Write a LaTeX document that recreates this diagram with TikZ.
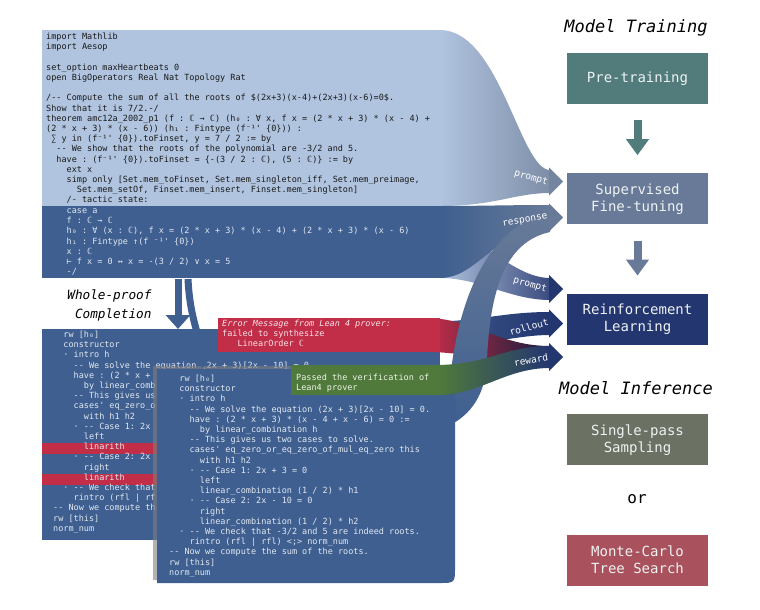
\documentclass[tikz,border=0pt]{standalone}
\usepackage{fontspec}
\setmonofont{DejaVu Sans Mono}
\usetikzlibrary{arrows.meta,shadows,positioning}

\definecolor{lightcode}{HTML}{B0C4DF}
\definecolor{darkcode}{HTML}{3E5F8F}
\definecolor{codetext}{HTML}{E3E9F2}
\definecolor{errred}{HTML}{C22D48}
\definecolor{errtext}{HTML}{F7E4EA}
\definecolor{passgreen}{HTML}{4F7A3B}
\definecolor{passtext}{HTML}{EEF4E8}
\definecolor{pretrain}{HTML}{527B7B}
\definecolor{sftcol}{HTML}{687A98}
\definecolor{rlcol}{HTML}{243670}
\definecolor{singlecol}{HTML}{6B7163}
\definecolor{mctscol}{HTML}{A9525E}
\definecolor{stagetext}{HTML}{EEF2F2}

% indentation in characters of the current mono font
\newcommand{\indc}[1]{\hspace*{#1\fontcharwd\font`x}}

\begin{document}
\begin{tikzpicture}[x=1pt,y=-1pt,
    leancode/.style={font=\ttfamily\fontsize{8.5}{10.2}\selectfont, align=left, inner sep=0pt, anchor=north west},
    stage/.style={minimum width=141pt, minimum height=51pt, inner sep=0pt, text=stagetext, align=center, font=\ttfamily\fontsize{14}{17}\selectfont},
    heading/.style={font=\ttfamily\itshape\fontsize{17}{20}\selectfont},
    bandlabel/.style={font=\ttfamily\fontsize{9.5}{11}\selectfont, text=white, inner sep=0pt},
    stagearrow/.style={line width=8pt, -{Triangle[length=16pt,width=22pt]}, shorten <=16pt, shorten >=18pt},
    proofarrow/.style={line width=7pt, darkcode, -{Triangle[length=14pt,width=24pt]}}]
\useasboundingbox (0,0) rectangle (760,610);

% prompt band to RL, under the rest
\shade[left color=lightcode, right color=rlcol!90!white] (440,225) .. controls (470,225) and (510,278) .. (550,278) -- (550,300) .. controls (510,300) and (480,278) .. (440,278) -- cycle;

% lean source
\fill[lightcode] (42,30) rectangle (440.5,206);
\fill[darkcode] (42,206) rectangle (440.5,278);
\shade[left color=lightcode, right color=sftcol!85!white] (440,30) .. controls (500,30) and (520,170) .. (550,170) -- (550,193) .. controls (515,193) and (495,206) .. (440,206) -- cycle;
\shade[left color=darkcode, right color=sftcol] (440,206) .. controls (480,206) and (510,205) .. (550,205) -- (550,230) .. controls (490,232) and (478,278) .. (440,278) -- cycle;

\node[leancode, text=black!90] (leansrc) at (46,32.4) {\strut import Mathlib\\
import Aesop\\
\mbox{}\\
set\_option maxHeartbeats 0\\
open BigOperators Real Nat Topology Rat\\
\mbox{}\\
/-- Compute the sum of all the roots of \$(2x+3)(x-4)+(2x+3)(x-6)=0\$.\\
Show that it is 7/2.-/\\
theorem amc12a\_2002\_p1 (f : ℂ → ℂ) (h₀ : ∀ x, f x = (2 * x + 3) * (x - 4) +\\
(2 * x + 3) * (x - 6)) (h₁ : Fintype (f⁻¹' \{0\})) :\\
\indc{1}∑ y in (f⁻¹' \{0\}).toFinset, y = 7 / 2 := by\\
\indc{2}-- We show that the roots of the polynomial are -3/2 and 5.\\
\indc{2}have : (f⁻¹' \{0\}).toFinset = \{-(3 / 2 : ℂ), (5 : ℂ)\} := by\\
\indc{4}ext x\\
\indc{4}simp only [Set.mem\_toFinset, Set.mem\_singleton\_iff, Set.mem\_preimage,\\
\indc{6}Set.mem\_setOf, Finset.mem\_insert, Finset.mem\_singleton]\\
\indc{4}/- tactic state:};
\node[leancode, text=codetext] (tactic) at (66.5,206.2) {\strut case a\\
f : ℂ → ℂ\\
h₀ : ∀ (x : ℂ), f x = (2 * x + 3) * (x - 4) + (2 * x + 3) * (x - 6)\\
h₁ : Fintype ↑(f ⁻¹' \{0\})\\
x : ℂ\\
⊢ f x = 0 ↔ x = -(3 / 2) ∨ x = 5\\
-/};

% rollout band
\shade[left color=darkcode, right color=rlcol] (420,322) .. controls (480,322) and (500,312) .. (550,312) -- (550,335) .. controls (515,335) and (490,346) .. (420,346) -- cycle;

% first attempt (mostly hidden behind the second one)
\fill[darkcode] (42,329) rectangle (440,540);
\fill[errred] (42,442.5) rectangle (440,453.5);
\fill[errred] (42,473.5) rectangle (440,484.5);
\node[leancode, text=codetext] (failproof) at (53,330.2) {\strut\indc{2}rw [h₀]\\
\indc{2}constructor\\
\indc{2}· intro h\\
\indc{4}-- We solve the equation (2x + 3)[2x - 10] = 0.\\
\indc{4}have : (2 * x +\\
\indc{6}by linear\_comb\\
\indc{4}-- This gives us\\
\indc{4}cases' eq\_zero\_o\\
\indc{6}with h1 h2\\
\indc{4}· -- Case 1: 2x\\
\indc{6}left\\
\indc{6}linarith\\
\indc{4}· -- Case 2: 2x\\
\indc{6}right\\
\indc{6}linarith\\
\indc{2}· -- We check that\\
\indc{4}rintro (rfl | rf\\
-- Now we compute th\\
rw [this]\\
norm\_num};

% error message and its reward band
\shade[left color=errred, right color=rlcol!55!black] (430,318) .. controls (475,320) and (500,346) .. (550,346) -- (550,368) .. controls (510,368) and (480,353) .. (430,352) -- cycle;
\fill[errred] (218,318) rectangle (440,352);
\node[leancode, text=errtext] (errmsg) at (222,319.2) {\strut{\itshape Error Message from Lean 4 prover:}\\
failed to synthesize\\
\indc{3}LinearOrder ℂ};

% passed proof, back to SFT as response
\shade[top color=sftcol, bottom color=darkcode] (550,214) .. controls (488,224) and (458,300) .. (450,380) -- (450,425) .. controls (470,415) and (486,395) .. (487,360) .. controls (490,290) and (505,242) .. (550,232) -- cycle;
\fill[darkcode, drop shadow={shadow xshift=-4pt, shadow yshift=3pt, opacity=.6}] (157,369) -- (455,369) -- (455,567) .. controls (455,583) .. (439,583) -- (157,583) -- cycle;
\node[leancode, text=codetext] (passproof) at (169,374.2) {\strut\indc{2}rw [h₀]\\
\indc{2}constructor\\
\indc{2}· intro h\\
\indc{4}-- We solve the equation (2x + 3)[2x - 10] = 0.\\
\indc{4}have : (2 * x + 3) * (x - 4 + x - 6) = 0 :=\\
\indc{6}by linear\_combination h\\
\indc{4}-- This gives us two cases to solve.\\
\indc{4}cases' eq\_zero\_or\_eq\_zero\_of\_mul\_eq\_zero this\\
\indc{6}with h1 h2\\
\indc{4}· -- Case 1: 2x + 3 = 0\\
\indc{6}left\\
\indc{6}linear\_combination (1 / 2) * h1\\
\indc{4}· -- Case 2: 2x - 10 = 0\\
\indc{6}right\\
\indc{6}linear\_combination (1 / 2) * h2\\
\indc{2}· -- We check that -3/2 and 5 are indeed roots.\\
\indc{4}rintro (rfl | rfl) <;> norm\_num\\
-- Now we compute the sum of the roots.\\
rw [this]\\
norm\_num};

% verification passed, reward band
\shade[left color=passgreen, right color=rlcol] (438,365) .. controls (490,364) and (505,346) .. (550,346) -- (550,368) .. controls (505,368) and (480,395) .. (438,395) -- cycle;
\fill[passgreen] (291,365) rectangle (440,395);
\node[leancode, text=passtext] (passmsg) at (296,373.2) {\strut Passed the verification of\\
Lean4 prover};

% whole-proof completion
\coordinate (wpa) at (178,279);
\coordinate (wpb) at (178,329);
\coordinate (wpc) at (188,279);
\coordinate (wpd) at (203,368);
\draw[proofarrow] (wpa) -- (wpb);
\draw[proofarrow] (wpc) .. controls (190,320) and (200,335) .. (wpd);
\node[font=\ttfamily\itshape\fontsize{12.7}{19}\selectfont, align=right, anchor=east] (wptext) at (155,305) {Whole-proof\\Completion};

% band heads and labels
\coordinate (sftprompt) at (563,181.5);
\coordinate (sftresp) at (563,217.5);
\coordinate (rlprompt) at (563,289);
\coordinate (rlroll) at (563,323.5);
\coordinate (rlrew) at (563,357);
\foreach \tip/\col in {sftprompt/sftcol!92!white, sftresp/sftcol, rlprompt/rlcol, rlroll/rlcol, rlrew/rlcol}
  \fill[\col] (\tip) ++(-14,-14) -- (\tip) -- ++(-14,14) -- cycle;
\node[bandlabel, rotate=-16] (lblprompt) at (531,178) {prompt};
\node[bandlabel, rotate=10] (lblresp) at (525,221) {response};
\node[bandlabel, rotate=-16] (lblprompt2) at (530,285) {prompt};
\node[bandlabel, rotate=16] (lblroll) at (529,327) {rollout};
\node[bandlabel, rotate=10] (lblrew) at (531,360) {reward};

% model training / inference
\node[heading] (trainhead) at (636,28) {Model Training};
\node[stage, fill=pretrain] (pre) at (637.5,78.5) {Pre-training};
\node[stage, fill=sftcol, below=69pt of pre] (sft) {Supervised\\Fine-tuning};
\node[stage, fill=rlcol, below=69pt of sft] (rl) {Reinforcement\\Learning};
\node[heading] (inferhead) at (636,388) {Model Inference};
\node[stage, fill=singlecol, below=69pt of rl] (single) {Single-pass\\Sampling};
\node[font=\ttfamily\fontsize{16}{19}\selectfont] (ornode) at (637,499) {or};
\node[stage, fill=mctscol, below=69pt of single] (mcts) {Monte-Carlo\\Tree Search};
\draw[stagearrow, pretrain] (pre) -- (sft);
\draw[stagearrow, sftcol] (sft) -- (rl);
\end{tikzpicture}
\end{document}
